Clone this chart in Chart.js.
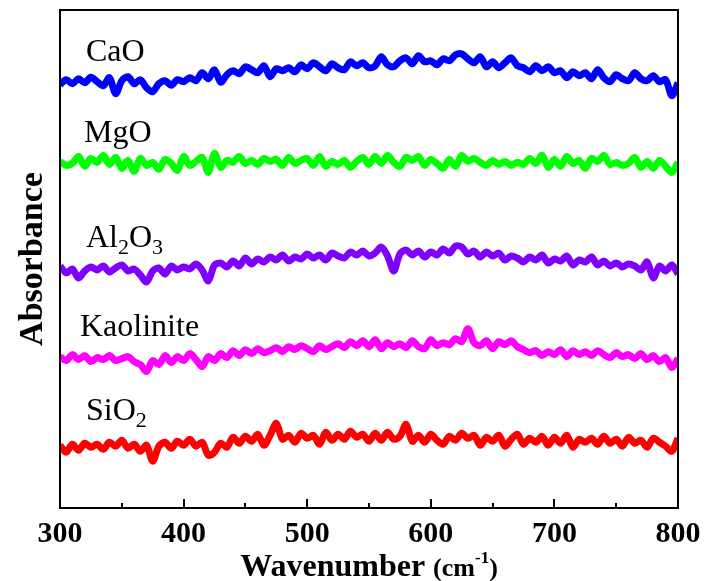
<!DOCTYPE html>
<html>
<head>
<meta charset="utf-8">
<script src="https://cdn.jsdelivr.net/npm/chart.js@4.4.1/dist/chart.umd.min.js"></script>
<style>
  html, body { margin: 0; padding: 0; background: #fff; }
  #wrap { width: 706px; height: 581px; }
</style>
</head>
<body>
<div id="wrap"><canvas id="spectra"></canvas></div>
<script>
// wavenumber grid, 300-800 cm-1 every 5
const wavenumbers = [];
for (let w = 300; w <= 800; w += 5) wavenumbers.push(w);

const xTicks = [300, 400, 500, 600, 700, 800];

// stacked absorbance traces (arbitrary units, offset per sample)
const caO = [
  85.0, 86.0, 85.2, 86.2, 85.4, 86.5, 85.6, 84.8, 86.4, 83.2,
  85.8, 86.6, 85.2, 86.0, 84.4, 83.6, 85.2, 85.8, 84.9, 86.0,
  85.6, 86.4, 85.8, 87.4, 86.2, 88.0, 85.5, 87.0, 87.8, 87.2,
  88.6, 88.0, 87.4, 88.8, 86.6, 88.2, 87.8, 88.4, 87.6, 89.0,
  88.2, 89.4, 88.6, 87.8, 89.2, 88.4, 88.0, 89.6, 88.8, 89.4,
  88.4, 88.8, 90.6, 89.0, 88.6, 89.8, 90.4, 89.2, 90.8, 89.6,
  89.8, 89.0, 90.2, 89.8, 91.0, 91.2, 90.2, 89.4, 90.6, 88.6,
  89.6, 88.4, 89.4, 90.4, 88.8, 88.4, 87.6, 88.8, 87.8, 88.6,
  87.4, 87.8, 86.4, 87.6, 86.8, 87.4, 86.2, 88.0, 86.4, 85.6,
  87.0, 86.2, 85.8, 87.4, 86.2, 85.8, 86.8, 85.6, 86.0, 82.8,
  85.4
];
const mgO = [
  69.6, 68.8, 69.2, 70.6, 68.6, 70.2, 69.4, 70.8, 69.0, 70.4,
  68.2, 69.8, 67.6, 70.2, 68.8, 69.4, 68.0, 70.0, 69.2, 67.8,
  70.6, 68.8, 69.6, 70.4, 67.4, 71.2, 68.4, 69.8, 69.4, 70.6,
  69.2, 69.8, 69.0, 70.2, 69.6, 70.0, 68.8, 70.4, 69.2, 69.8,
  70.2, 68.8, 70.6, 68.6, 69.6, 69.0, 69.8, 68.4, 69.6, 70.4,
  69.0, 70.6, 69.2, 70.8, 69.4, 68.6, 70.4, 69.8, 70.6, 68.8,
  70.0, 69.2, 68.2, 70.0, 68.6, 70.8, 69.6, 70.2, 69.4, 68.8,
  69.8, 69.0, 69.6, 68.8, 69.4, 69.0, 70.2, 69.2, 70.8, 68.4,
  70.0, 68.6, 70.6, 69.2, 69.8, 68.2, 70.2, 69.6, 70.8, 69.0,
  69.4, 68.8, 69.2, 70.4, 68.4, 69.6, 68.2, 69.8, 68.6, 67.4,
  69.4
];
const al2O3 = [
  48.6, 47.2, 48.0, 46.2, 47.6, 48.4, 47.8, 48.6, 47.4, 48.2,
  48.8, 47.6, 48.0, 46.8, 45.4, 47.6, 48.2, 47.0, 48.6, 47.8,
  48.4, 48.0, 49.0, 47.8, 45.6, 48.8, 49.2, 48.4, 49.6, 48.6,
  50.2, 49.0, 50.0, 49.4, 50.4, 49.8, 50.8, 49.6, 50.4, 50.0,
  51.0, 50.2, 50.8, 49.8, 51.2, 50.6, 50.2, 51.4, 50.8, 51.6,
  50.6, 51.2, 52.4, 50.6, 47.6, 51.0, 51.8, 50.8, 51.6, 50.4,
  51.4, 50.8, 52.0, 51.2, 52.6, 52.4, 51.0, 51.6, 50.4, 51.4,
  50.6, 51.2, 49.8, 50.6, 50.2, 49.4, 50.4, 49.8, 50.8, 49.2,
  50.0, 49.6, 50.6, 48.8, 49.8, 49.4, 50.4, 48.8, 49.6, 48.6,
  49.2, 48.4, 49.0, 48.6, 47.8, 49.4, 46.2, 48.6, 47.6, 48.8,
  47.0
];
const kaolinite = [
  30.4, 29.6, 30.8, 29.8, 30.6, 29.4, 30.2, 29.8, 30.6, 29.6,
  30.0, 30.4, 29.4, 28.8, 27.4, 29.6, 28.8, 30.6, 29.2, 30.4,
  29.6, 31.0, 29.8, 28.4, 30.4, 29.6, 31.0, 30.2, 31.6, 30.6,
  31.8, 31.0, 32.0, 31.2, 31.6, 32.2, 31.4, 32.4, 31.8, 32.6,
  32.0, 31.4, 32.6, 31.8, 32.4, 33.0, 32.2, 33.4, 32.6, 33.6,
  32.4, 33.8, 32.0, 33.2, 32.4, 33.0, 32.2, 33.6, 32.4, 32.0,
  33.8, 32.6, 33.2, 32.8, 34.0, 33.4, 36.0, 33.2, 32.6, 33.6,
  32.0, 33.4, 32.8, 33.6, 32.4, 31.8, 31.2, 31.6, 30.6, 31.4,
  30.8, 31.8, 30.4, 31.6, 30.8, 31.4, 30.6, 31.6, 30.8, 30.2,
  31.2, 30.4, 30.8, 30.0, 31.0, 29.8, 30.6, 29.4, 30.2, 28.2,
  30.0
];
const siO2 = [
  12.6, 11.2, 12.8, 11.6, 13.0, 12.2, 12.8, 11.8, 13.2, 12.4,
  13.6, 12.0, 12.8, 11.4, 12.6, 9.4, 12.4, 13.2, 12.0, 13.4,
  12.6, 13.8, 12.4, 13.2, 10.6, 11.2, 13.0, 12.2, 14.2, 13.0,
  14.4, 13.4, 14.8, 12.6, 14.6, 17.0, 13.8, 14.6, 13.2, 15.0,
  14.0, 14.6, 12.8, 15.2, 13.6, 14.8, 13.8, 15.4, 14.2, 14.8,
  13.4, 15.0, 13.6, 15.2, 13.8, 14.4, 16.8, 13.4, 14.6, 13.2,
  14.8, 13.6, 12.8, 14.4, 13.6, 15.0, 14.0, 14.6, 12.6, 14.2,
  13.4, 14.6, 12.4, 13.8, 14.8, 12.8, 14.0, 13.2, 14.4, 12.6,
  14.2, 13.0, 14.6, 12.2, 13.8, 13.2, 14.0, 12.8, 14.4, 13.0,
  13.8, 12.4, 14.2, 13.0, 13.6, 12.2, 14.0, 13.2, 12.4, 11.4,
  14.0
];

const seriesData = [caO, mgO, al2O3, kaolinite, siO2];
const seriesColors = ["#0000ff", "#00ff00", "#8000ff", "#ff00ff", "#ff0000"];
// sample names, subscripts marked with _
const seriesNames = ["CaO", "MgO", "Al_2O_3", "Kaolinite", "SiO_2"];
// where each name sits: x and baseline in px
const nameSpots = [[86, 61], [84, 142], [86, 247], [80, 336], [86, 420]];

const SERIF = "'Liberation Serif', 'Times New Roman', serif";

// text with _n subscripts
function drawChem(ctx, name, x, y, size) {
  const parts = name.split("_");
  ctx.font = size + "px " + SERIF;
  ctx.fillText(parts[0], x, y);
  x += ctx.measureText(parts[0]).width;
  for (let i = 1; i < parts.length; i++) {
    const sub = parts[i].charAt(0);
    const rest = parts[i].slice(1);
    ctx.font = Math.round(size * 0.7) + "px " + SERIF;
    ctx.fillText(sub, x, y + size * 0.22);
    x += ctx.measureText(sub).width;
    ctx.font = size + "px " + SERIF;
    ctx.fillText(rest, x, y);
    x += ctx.measureText(rest).width;
  }
}

const decor = {
  id: "decor",
  afterDraw(chart) {
    const { ctx, chartArea: a, scales } = chart;
    ctx.save();
    ctx.fillStyle = "#000";
    ctx.strokeStyle = "#000";

    // frame
    ctx.lineWidth = 2;
    ctx.strokeRect(a.left, a.top, a.right - a.left, a.bottom - a.top);

    // inward ticks on the bottom axis
    for (let w = 300; w <= 800; w += 50) {
      const px = Math.round(scales.x.getPixelForValue(w));
      const len = w % 100 === 0 ? 9 : 5;
      ctx.beginPath();
      ctx.moveTo(px, a.bottom);
      ctx.lineTo(px, a.bottom - len);
      ctx.stroke();
    }

    // sample names
    ctx.textAlign = "left";
    ctx.textBaseline = "alphabetic";
    seriesNames.forEach((n, i) => drawChem(ctx, n, nameSpots[i][0], nameSpots[i][1], 32));

    // x title with superscript
    const cx = (a.left + a.right) / 2;
    const base = 576;
    ctx.font = "bold 32px " + SERIF;
    const t1 = "Wavenumber ";
    const w1 = ctx.measureText(t1).width;
    ctx.font = "bold 26px " + SERIF;
    const t2 = "(cm";
    const w2 = ctx.measureText(t2).width;
    ctx.font = "bold 17px " + SERIF;
    const t3 = "-1";
    const w3 = ctx.measureText(t3).width;
    ctx.font = "bold 26px " + SERIF;
    const w4 = ctx.measureText(")").width;
    let x = cx - (w1 + w2 + w3 + w4) / 2;
    ctx.font = "bold 32px " + SERIF;
    ctx.fillText(t1, x, base); x += w1;
    ctx.font = "bold 26px " + SERIF;
    ctx.fillText(t2, x, base); x += w2;
    ctx.font = "bold 17px " + SERIF;
    ctx.fillText(t3, x, base - 13); x += w3;
    ctx.font = "bold 26px " + SERIF;
    ctx.fillText(")", x, base);

    // y title
    ctx.translate(33, (a.top + a.bottom) / 2);
    ctx.rotate(-Math.PI / 2);
    ctx.textAlign = "center";
    ctx.textBaseline = "middle";
    ctx.font = "bold 34px " + SERIF;
    ctx.fillText("Absorbance", 0, 0);
    ctx.restore();
  }
};

new Chart(document.getElementById("spectra"), {
  type: "line",
  data: {
    datasets: seriesData.map((vals, i) => ({
      label: seriesNames[i],
      data: vals.map((v, j) => ({ x: wavenumbers[j], y: v })),
      borderColor: seriesColors[i],
      borderWidth: 7,
      pointRadius: 0,
      tension: 0.3,
      fill: false,
    })),
  },
  options: {
    responsive: true,
    maintainAspectRatio: false,
    animation: false,
    layout: { padding: { left: 60, right: 28, top: 10, bottom: 29 } },
    plugins: { legend: { display: false }, tooltip: { enabled: false } },
    scales: {
      x: {
        type: "linear",
        min: 300,
        max: 800,
        afterBuildTicks: (axis) => {
          axis.ticks = xTicks.map((v) => ({ value: v }));
        },
        grid: { display: false },
        border: { display: false },
        ticks: {
          color: "#000",
          padding: 0,
          font: { family: SERIF, size: 30, weight: "bold" },
        },
      },
      y: {
        display: false,
        min: 0,
        max: 100,
      },
    },
  },
  plugins: [decor],
});
</script>
</body>
</html>
